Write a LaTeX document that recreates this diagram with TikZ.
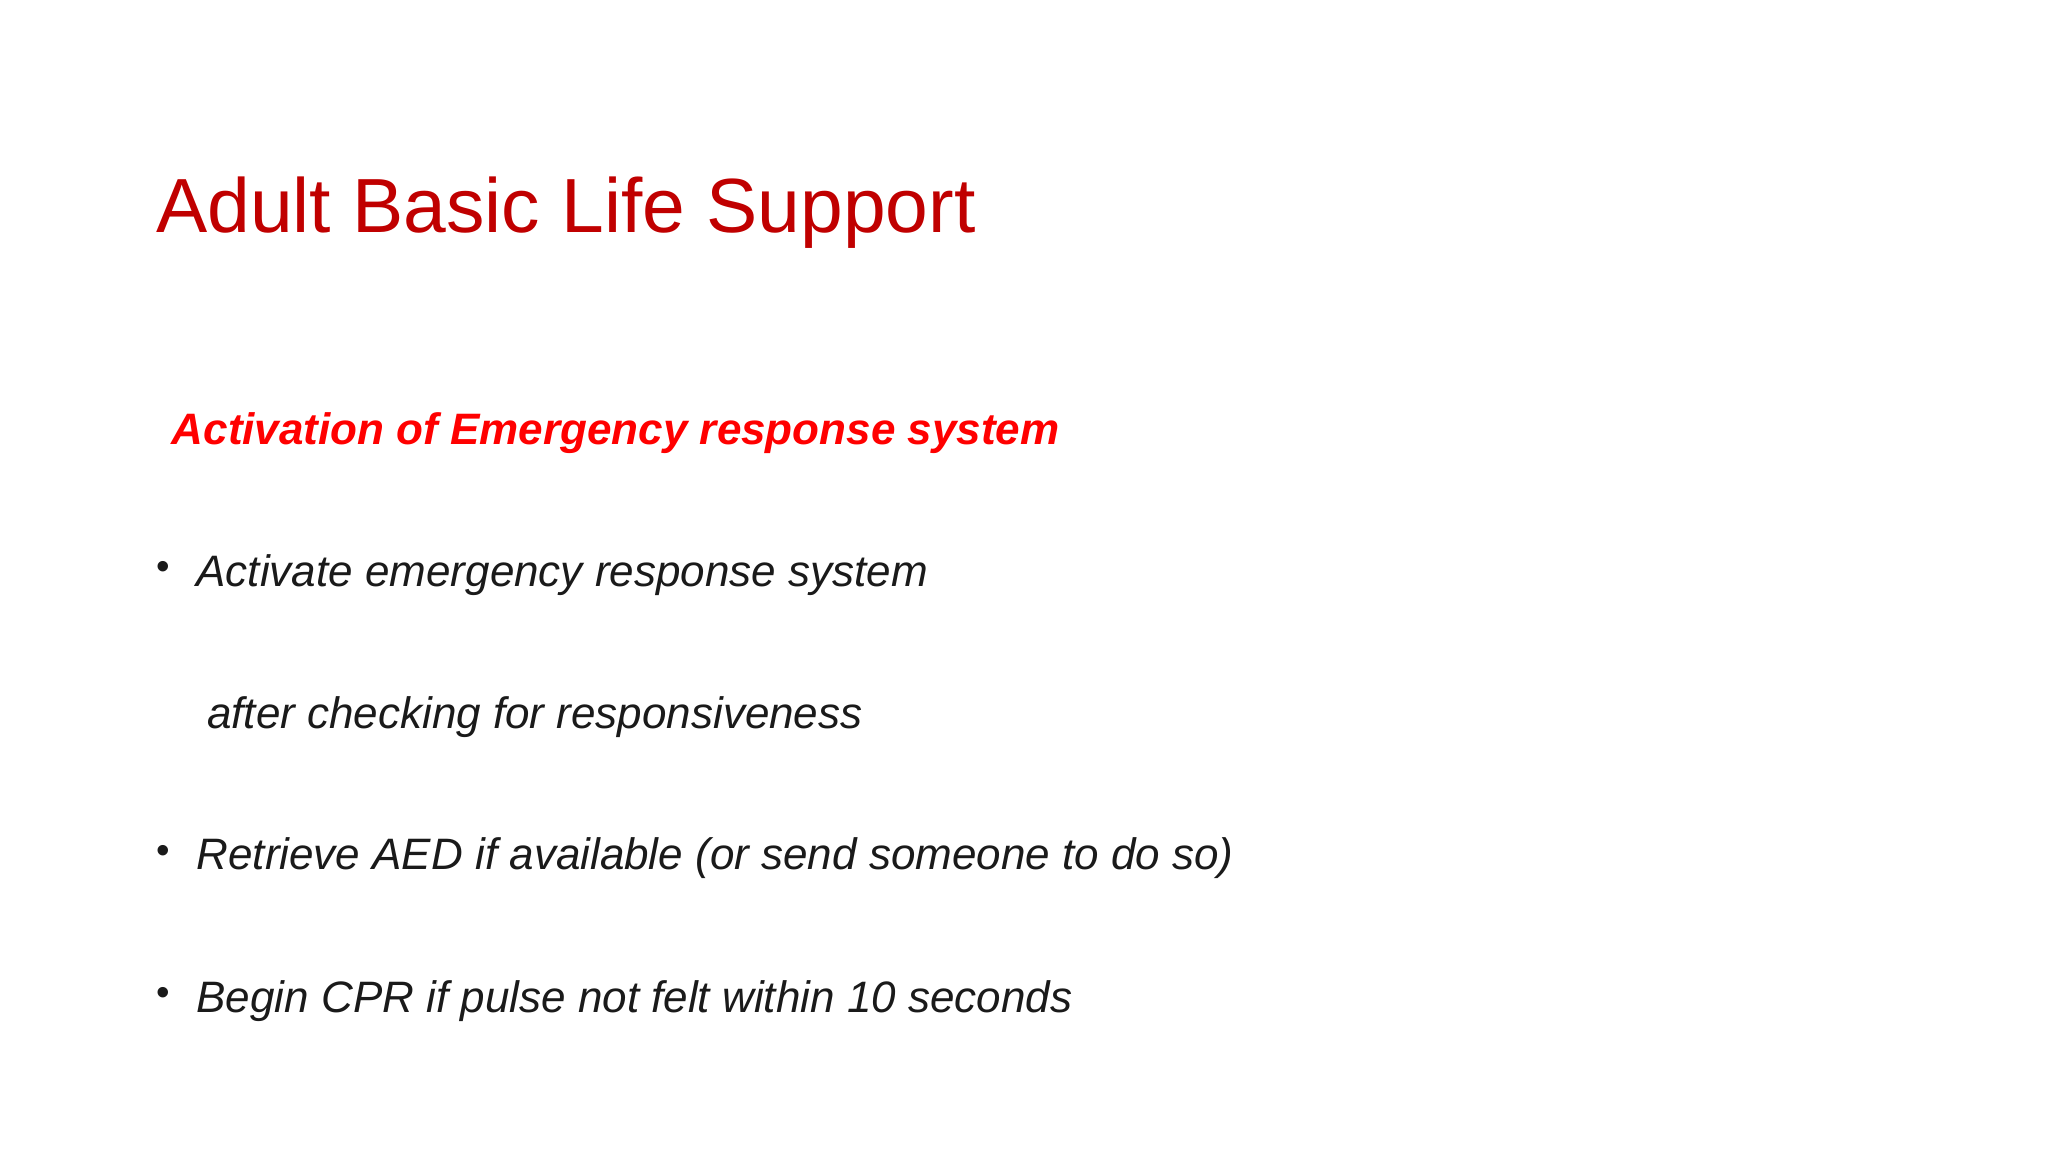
\documentclass[tikz,border=0pt]{standalone}
\usepackage{fontspec}
\setmainfont{Liberation Sans}
\definecolor{titlered}{HTML}{C00000}
\definecolor{subred}{HTML}{FF0000}
\definecolor{txt}{HTML}{1A1A1A}
\begin{document}
\begin{tikzpicture}[x=0.013061cm,y=-0.013061cm,
  line/.style={anchor=base west,inner sep=0pt,font=\fontsize{12.52pt}{15pt}\selectfont\itshape,text=txt},
  bul/.style={anchor=base west,inner sep=0pt,font=\fontsize{11pt}{13pt}\selectfont,text=txt}]
\useasboundingbox (0,0) rectangle (1568,882);
\node[anchor=base west,inner sep=0pt,font=\fontsize{21.85pt}{26pt}\selectfont,text=titlered] (title) at (119,178) {Adult Basic Life Support};
\node[anchor=base west,inner sep=0pt,font=\fontsize{12.52pt}{15pt}\selectfont\bfseries\itshape,text=subred] (sub) at (131,340) {Activation of Emergency response system};
\node[bul] (b1) at (119,444) {•};
\node[line] (l1) at (150,449) {Activate emergency response system};
\node[line] (l2) at (158,558) {after checking for responsiveness};
\node[bul] (b2) at (119,661) {•};
\node[line] (l3) at (150,666) {Retrieve AED if available (or send someone to do so)};
\node[bul] (b3) at (119,770) {•};
\node[line] (l4) at (150,775) {Begin CPR if pulse not felt within 10 seconds};
\end{tikzpicture}
\end{document}
